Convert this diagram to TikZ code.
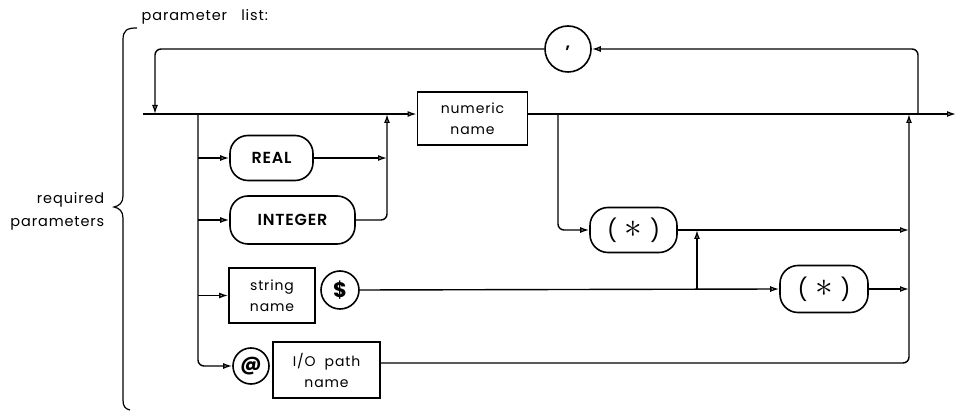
\documentclass[tikz,border=0pt]{standalone}
\usepackage{fontspec}
\setmainfont{Poppins}
\newfontfamily\plotfont[LetterSpace=6]{Poppins}
\newfontfamily\plotbold[LetterSpace=5]{Poppins SemiBold}
\usetikzlibrary{arrows.meta}
\newcommand\starsym{(\hspace{0.35em}\raisebox{0.02em}{\scalebox{1.7}{$\ast$}}\hspace{0.35em})}
\begin{document}
\begin{tikzpicture}[x=1pt,y=-1pt,
  line width=1.4pt,
  ar/.style={-{Latex[open,length=9pt,width=6pt]}},
  lbl/.style={font=\plotfont\fontsize{14}{21}\selectfont, align=center, inner sep=0pt},
  kw/.style={font=\plotbold\fontsize{16}{16}\selectfont},
  sbox/.style={draw, rectangle, line width=1.8pt, lbl},
  pill/.style={draw, rectangle, rounded corners=18pt, line width=1.6pt, inner sep=0pt},
  rnd/.style={draw, circle, line width=1.6pt, inner sep=0pt},
  rc/.style={rounded corners=6pt}]
\useasboundingbox (0,0) rectangle (956,411);

% labels and brace
\node[anchor=west, font=\plotfont\fontsize{14.5}{14}\selectfont, inner sep=0pt] (title) at (141,17) {parameter\ \ \ list:};
\node[anchor=east, align=right, font=\plotfont\fontsize{14.5}{23}\selectfont, inner sep=0pt] (req) at (105,211) {required\\parameters};
\draw[line width=1.2pt] (137,28) .. controls (127,28) and (123,30) .. (123,40) -- (123,196)
   .. controls (123,203) and (119,206) .. (114,207)
   .. controls (119,208) and (123,211) .. (123,218) -- (123,400)
   .. controls (123,406) and (125,409) .. (130,410);

% nodes
\node[rnd, minimum size=46pt, font=\bfseries\fontsize{16}{16}\selectfont] (comma) at (568,49) {\raisebox{0.25em}{,}};
\node[sbox, minimum width=110pt, minimum height=53pt] (numname) at (472.5,118.5) {numeric\\name};
\node[pill, minimum width=83pt, minimum height=45pt, kw] (real) at (271.5,158) {REAL};
\node[pill, minimum width=125pt, minimum height=48pt, kw] (integer) at (292.5,220) {INTEGER};
\node[sbox, minimum width=86pt, minimum height=55pt] (strname) at (272,295.5) {string\\name};
\node[rnd, minimum size=38pt, font=\bfseries\fontsize{21}{21}\selectfont] (dollar) at (340,290) {\$};
\node[pill, minimum width=87pt, minimum height=45pt, font=\fontsize{22}{22}\selectfont] (star1) at (633.5,230) {\starsym};
\node[pill, minimum width=88pt, minimum height=47pt, font=\fontsize{22}{22}\selectfont] (star2) at (824,289) {\starsym};
\node[rnd, minimum size=36pt, font=\bfseries\fontsize{20}{20}\selectfont] (atsym) at (251,366) {@};
\node[sbox, minimum width=107pt, minimum height=56pt] (ioname) at (326.5,370) {I/O\ \ path\\name};

% coordinates
\coordinate (start) at (143,114);
\coordinate (fin) at (956,114);
\coordinate (br) at (198,114);
\coordinate (sp) at (558,114);
\coordinate (lp) at (918,114);
\coordinate (col) at (909,114);
\coordinate (jn) at (387,114);
\coordinate (jn2) at (697,289);

% main line
\draw[ar] (start) -- (numname.west |- start);
\draw[ar] (numname.east |- fin) -- (fin);
% loop
\draw[ar, rc] (lp) -- (918,49) -- (comma.east);
\draw[ar, rc] (comma.west) -- (155,49) -- (155,114);
% left branch
\draw[ar, rc] (br) -- (198,366) -- (atsym.west);
\draw[ar] (198,158) -- (real.west);
\draw[ar] (198,220) -- (integer.west);
\draw[ar] (198,295.5) -- (strname.west);
% join
\draw[ar] (real.east) -- (387,158);
\draw[ar, rc] (integer.east) -- (387,220) -- (jn);
% string
\draw[ar] (dollar.east) -- (star2.west);
\draw[ar] (jn2) -- (697,230);
\draw[ar] (star2.east) -- (909,289);
% numeric subscript
\draw[ar, rc] (sp) -- (558,230) -- (star1.west);
\draw[ar] (star1.east) -- (909,230);
% io path
\draw[ar, rc] ([yshift=7pt]ioname.east) -- (909,363) -- (col);
\end{tikzpicture}
\end{document}
